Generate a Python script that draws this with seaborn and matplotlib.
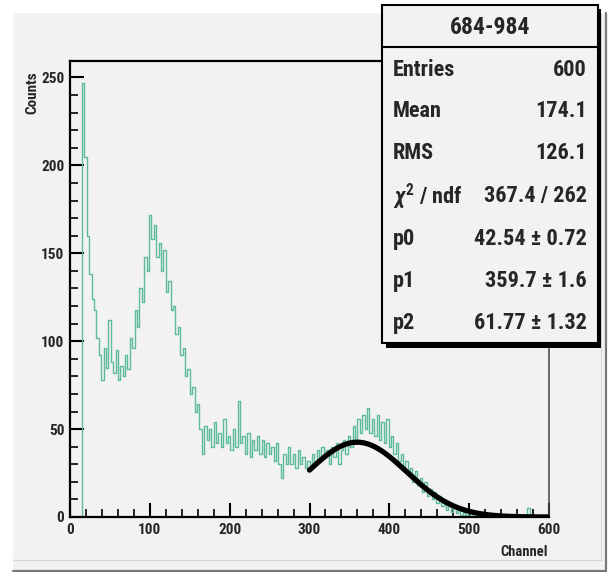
import numpy as np
import pandas as pd
import matplotlib
matplotlib.use("Agg")
import matplotlib.pyplot as plt
from matplotlib import font_manager as fm
from matplotlib.patches import Rectangle
from matplotlib.lines import Line2D
from matplotlib.ticker import MultipleLocator
import seaborn as sns

# Spectrum: counts per 3-channel bin, channels 0..599
BIN_WIDTH = 3
counts = [
    0, 0, 0, 0, 0, 247, 205, 160, 138, 124,
    118, 102, 92, 78, 96, 85, 112, 88, 82, 95,
    78, 86, 80, 92, 84, 102, 96, 118, 108, 130,
    122, 148, 140, 172, 158, 166, 148, 156, 140, 152,
    128, 134, 118, 120, 104, 108, 92, 96, 80, 84,
    70, 74, 60, 64, 50, 36, 52, 44, 50, 40,
    54, 42, 48, 40, 56, 42, 46, 38, 50, 40,
    66, 42, 46, 36, 48, 34, 44, 38, 46, 36,
    44, 34, 42, 36, 40, 32, 42, 30, 22, 36,
    30, 40, 30, 36, 28, 38, 30, 34, 28, 32,
    28, 36, 30, 38, 32, 40, 34, 38, 30, 40,
    34, 42, 30, 38, 44, 36, 46, 40, 52, 44,
    56, 48, 58, 50, 62, 48, 56, 46, 58, 44,
    54, 42, 56, 40, 46, 36, 42, 32, 36, 28,
    32, 24, 28, 20, 26, 18, 22, 14, 20, 12,
    16, 10, 14, 8, 12, 6, 9, 4, 7, 3,
    5, 2, 4, 1, 3, 1, 2, 0, 2, 1,
    0, 1, 0, 0, 1, 0, 0, 1, 0, 0,
    0, 0, 1, 0, 0, 0, 0, 1, 0, 0,
    0, 5, 0, 0, 1, 0, 0, 0, 0, 0,
]

# Gaussian fit results
fit_range = (300, 600)
p0, p1, p2 = 42.54, 359.7, 61.77

# Statistics box contents
title = "684-984"
stat_names = ["Entries", "Mean", "RMS", r"$\chi^{2}$ / ndf", "p0", "p1", "p2"]
stat_values = ["600", "174.1", "126.1", "367.4 / 262",
               "42.54 \u00b1 0.72", "359.7 \u00b1 1.6", "61.77 \u00b1 1.32"]

x_ticks = [0, 100, 200, 300, 400, 500, 600]
y_ticks = [0, 50, 100, 150, 200, 250]

# ---------------------------------------------------------------- style
W, H = 615, 572
PAD_BG = "#f2f2f2"
HIST_COLOR = "#5dbb9c"

names = {f.name for f in fm.fontManager.ttflist}
FONT = "DejaVu Sans"
for cand in ["Liberation Sans Narrow", "Roboto Condensed", "Open Sans Condensed",
             "Liberation Sans"]:
    if cand in names:
        FONT = cand
        break

sns.set_style("ticks")
plt.rcParams["font.family"] = [FONT, "DejaVu Sans"]
plt.rcParams["font.weight"] = "bold"
plt.rcParams["mathtext.fontset"] = "custom"
plt.rcParams["mathtext.rm"] = FONT + ":bold"
plt.rcParams["mathtext.it"] = FONT + ":italic:bold"


def fx(px):
    return px / W


def fy(py):
    return 1 - py / H


fig = plt.figure(figsize=(W / 100, H / 100), dpi=100, facecolor="white")

# canvas pad with bevelled border
fig.patches.append(Rectangle((fx(13), fy(571)), fx(606) - fx(13), fy(13) - fy(571),
                             transform=fig.transFigure, facecolor=PAD_BG,
                             edgecolor="none", zorder=-5))
fig.add_artist(Line2D([fx(13), fx(606)], [fy(570.5), fy(570.5)], color="#7a7a7a",
                      lw=1.6, transform=fig.transFigure, zorder=-4))
fig.add_artist(Line2D([fx(605.5), fx(605.5)], [fy(570.5), fy(13)], color="#7a7a7a",
                      lw=1.6, transform=fig.transFigure, zorder=-4))
fig.add_artist(Line2D([fx(13), fx(601)], [fy(560), fy(560)], color="#d4d4d4",
                      lw=0.8, transform=fig.transFigure, zorder=-4))
fig.add_artist(Line2D([fx(601), fx(601)], [fy(560), fy(13)], color="#d4d4d4",
                      lw=0.8, transform=fig.transFigure, zorder=-4))

ax = fig.add_axes([fx(70), fy(517), fx(549) - fx(70), fy(61) - fy(517)])
ax.set_zorder(1)
ax.set_facecolor(PAD_BG)

# histogram
edges = (np.arange(len(counts) + 1) * BIN_WIDTH).tolist()
centers = [e + BIN_WIDTH / 2 for e in edges[:-1]]
hist_df = pd.DataFrame({"channel": centers, "counts": counts})
sns.histplot(data=hist_df, x="channel", weights="counts", bins=edges,
             element="step", fill=False, color=HIST_COLOR, linewidth=1.0,
             ax=ax, zorder=2)

# fitted gaussian
xf = np.linspace(fit_range[0], fit_range[1], 400)
fit_df = pd.DataFrame({"channel": xf,
                       "fit": p0 * np.exp(-0.5 * ((xf - p1) / p2) ** 2)})
sns.lineplot(data=fit_df, x="channel", y="fit", color="black", linewidth=3.8,
             ax=ax, zorder=3, solid_capstyle="round")

ax.set_xlim(0, 600)
ax.set_ylim(0, 1.05 * max(counts))
ax.set_xlabel("")
ax.set_ylabel("")
ax.set_xticks(x_ticks)
ax.set_yticks(y_ticks)
ax.xaxis.set_minor_locator(MultipleLocator(20))
ax.yaxis.set_minor_locator(MultipleLocator(10))
ax.tick_params(which="major", direction="in", length=10, width=1.5,
               labelsize=11, pad=4, color="black")
ax.tick_params(which="minor", direction="in", length=5.5, width=1.2, color="black")
ax.tick_params(axis="x", which="both", top=False)
ax.tick_params(axis="y", which="both", right=False)
for lab in ax.get_xticklabels() + ax.get_yticklabels():
    lab.set_fontweight("bold")
for side in ["left", "bottom", "top"]:
    ax.spines[side].set_color("black")
    ax.spines[side].set_linewidth(1.6)
ax.spines["right"].set_color("#444444")
ax.spines["right"].set_linewidth(1.1)
for side in ax.spines:
    ax.spines[side].set_visible(True)

# axis titles
fig.text(fx(32), fy(93), "Counts", rotation=90, ha="center", va="center",
         fontsize=11, fontweight="bold")
fig.text(fx(548), fy(552), "Channel", ha="right", va="center",
         fontsize=10.5, fontweight="bold")

# statistics box with shadow
bx0, bx1, by0, by1 = 382, 598, 5, 343
fig.patches.append(Rectangle((fx(bx0 + 4), fy(by1 + 5)), fx(bx1 + 3) - fx(bx0 + 4),
                             fy(by0 + 4) - fy(by1 + 5), transform=fig.transFigure,
                             facecolor="black", edgecolor="none", zorder=5))
fig.patches.append(Rectangle((fx(bx0), fy(by1)), fx(bx1) - fx(bx0), fy(by0) - fy(by1),
                             transform=fig.transFigure, facecolor=PAD_BG,
                             edgecolor="black", linewidth=1.5, zorder=6))
fig.add_artist(Line2D([fx(bx0), fx(bx1)], [fy(47), fy(47)], color="black", lw=1.5,
                      transform=fig.transFigure, zorder=7))
fig.text(fx((bx0 + bx1) / 2), fy(28), title, ha="center", va="center",
         fontsize=17, fontweight="bold", zorder=8)
row_y = [70, 111, 153, 196, 239, 281, 323]
for name, val, yy in zip(stat_names, stat_values, row_y):
    fig.text(fx(393), fy(yy), name, ha="left", va="center", fontsize=16,
             fontweight="bold", zorder=8)
    fig.text(fx(587), fy(yy), val, ha="right", va="center", fontsize=16,
             fontweight="bold", zorder=8)

fig.savefig("out.png", dpi=100, facecolor="white")
